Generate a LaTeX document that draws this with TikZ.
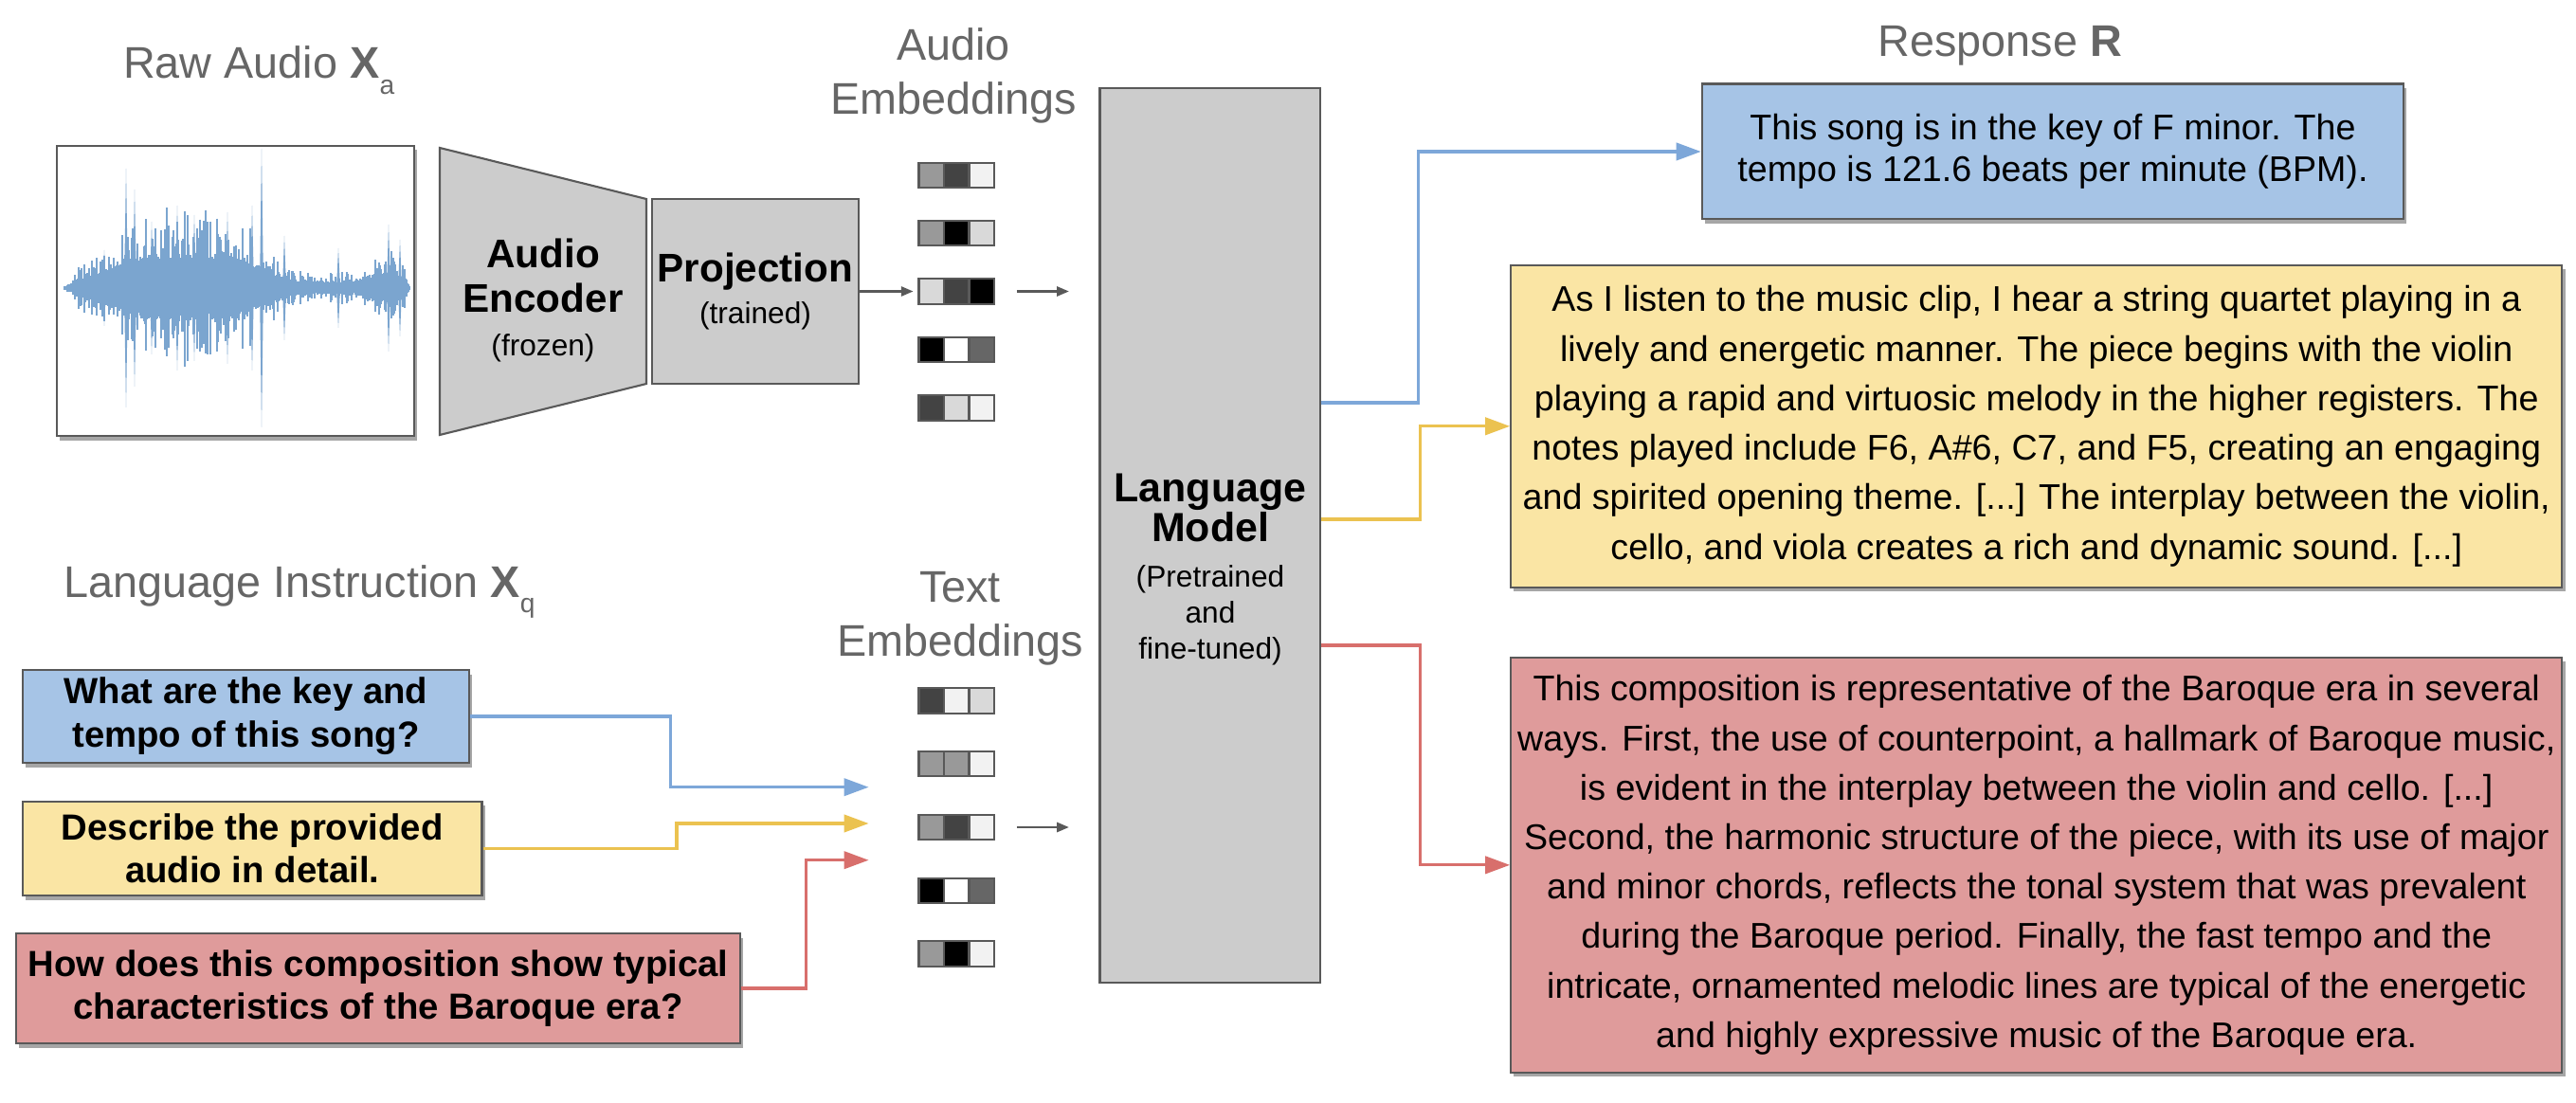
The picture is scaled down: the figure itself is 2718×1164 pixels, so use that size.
\documentclass[tikz,border=0pt]{standalone}
\usepackage{fontspec}
\setmainfont{Liberation Sans}
\usetikzlibrary{arrows.meta, shadows, positioning}

\definecolor{boxgray}{HTML}{CCCCCC}
\definecolor{edgegray}{HTML}{595959}
\definecolor{titlegray}{HTML}{666666}
\definecolor{fillblue}{HTML}{A6C4E6}
\definecolor{fillyellow}{HTML}{FAE5A4}
\definecolor{fillred}{HTML}{DF9B9B}
\definecolor{lineblue}{HTML}{7DA7D9}
\definecolor{lineyellow}{HTML}{EBC250}
\definecolor{linered}{HTML}{D86F6C}
\definecolor{wavecolor}{HTML}{7BA5CF}
\definecolor{g1}{HTML}{F2F2F2}
\definecolor{g2}{HTML}{D9D9D9}
\definecolor{g3}{HTML}{999999}
\definecolor{g4}{HTML}{666666}
\definecolor{g5}{HTML}{434343}

\newcommand{\lowsub}[1]{\raisebox{-4.8pt}{\fontsize{8}{8}\selectfont #1}}

\tikzset{
    blockfill/.style={draw=edgegray, line width=0.6pt, fill=boxgray},
    box/.style={rectangle, draw=edgegray, line width=0.6pt, inner sep=0pt, align=center},
    shadowbox/.style={box, drop shadow={shadow xshift=0.9pt, shadow yshift=-1.3pt, opacity=0.35, fill=black}},
    grayblock/.style={box, fill=boxgray},
    question/.style={shadowbox, font=\fontsize{10.9}{13}\selectfont\bfseries},
    answer/.style={shadowbox, font=\fontsize{10.7}{14.85}\selectfont},
    titletext/.style={inner sep=0pt, text=titlegray, align=center, font=\fontsize{13.3}{16.1}\selectfont},
    cell/.style={draw=edgegray, line width=0.6pt, minimum size=0.265cm, inner sep=0pt},
    flow/.style={line width=0.9pt, -{Triangle[length=7.4pt, width=5.2pt]}},
    smallarrow/.style={draw=edgegray, line width=0.6pt, -{Triangle[length=3.6pt, width=2.9pt]}},
    wave/.style={draw=wavecolor, line width=0.45pt}
}

\begin{document}
\begin{tikzpicture}[x=0.01cm, y=-0.01cm]
    \useasboundingbox (0,0) rectangle (2718,1164);

    % titles
    \node[titletext, anchor=base west] (rawtitle) at (129.5,83) {Raw Audio \textbf{X}\lowsub{a}};
    \node[titletext, anchor=base west] (instrtitle) at (67,630) {Language Instruction \textbf{X}\lowsub{q}};
    \node[titletext, anchor=base west] (resptitle) at (1981,60) {Response \textbf{R}};
    \node[titletext] (audembtitle) at (1006,80) {Audio\\Embeddings};
    \node[titletext] (txtembtitle) at (1013,653) {Text\\Embeddings};

    % raw audio
    \node[shadowbox, fill=white, minimum width=3.77cm, minimum height=3.06cm] (wavebox) at (248.5,307) {};
    \pgfmathsetseed{7}
    \foreach \i in {0,...,364}{
        \pgfmathsetmacro\wx{68+\i}
        \pgfmathsetmacro\da{(\wx-195)/90}
        \pgfmathsetmacro\db{(\wx-410)/22}
        \pgfmathsetmacro\env{(12+50*exp(-(\da)^4)+18*exp(-(\db)*(\db)))*min(1,(\wx-66)/14)*min(1,(434-\wx)/8)}
        \pgfmathsetmacro\amp{\env*(0.5+0.9*rnd^3)}
        \pgfmathsetmacro\skew{0.8+0.25*rnd}
        \draw[wave] (\wx,304-\amp) -- (\wx,304+\amp*\skew);
    }
    \foreach \sx/\sa in {110/40, 133/126, 142/104, 160/70, 187/87, 205/77, 240/80, 266/87, 276/147, 300/55, 357/42, 410/67, 422/51}{
        \fill[wavecolor] (\sx-2,304) -- (\sx,304-\sa) -- (\sx+2,304) -- (\sx,304+\sa) -- cycle;
    }

    % encoder and projection
    \draw[blockfill] (464,156) -- (682,210) -- (682,405) -- (464,459) -- cycle;
    \node[inner sep=0pt, align=center, font=\fontsize{12}{13.3}\selectfont\bfseries] (enc) at (573,317)
        {Audio\\Encoder\\{\fontsize{9}{9}\selectfont\mdseries (frozen)}};
    \node[grayblock, minimum width=2.18cm, minimum height=1.95cm, font=\fontsize{12}{12.5}\selectfont\bfseries] (proj) at (797,307.5)
        {Projection\\{\fontsize{9}{9}\selectfont\mdseries (trained)}};

    % embeddings
    \foreach \r/\shades/\ry in {1/{g3,g5,g1}/185, 2/{g3,black,g2}/246, 3/{g2,g5,black}/307.5, 4/{black,white,g4}/369, 5/{g5,g2,g1}/430.5}{
        \foreach \s [count=\c] in \shades
            \node[cell, fill=\s] (aud-\r-\c) at ({956.25+26.5*\c},\ry) {};
    }
    \foreach \r/\shades/\ry in {1/{g5,g1,g2}/739.5, 2/{g3,g3,g1}/806, 3/{g3,g5,g1}/873, 4/{black,white,g4}/940, 5/{g3,black,g1}/1006.5}{
        \foreach \s [count=\c] in \shades
            \node[cell, fill=\s] (txt-\r-\c) at ({956.25+26.5*\c},\ry) {};
    }

    % language model
    \node[grayblock, minimum width=2.324cm, minimum height=9.44cm] (lm) at (1276.8,565) {};
    \node[inner sep=0pt, align=center, font=\fontsize{12.2}{11.9}\selectfont\bfseries] (lmtitle) at (1277,535.6) {Language\\Model};
    \node[inner sep=0pt, align=center, font=\fontsize{9}{10.8}\selectfont] (lmnote) at (1277,648.9) {(Pretrained\\and\\fine-tuned)};

    \draw[smallarrow, shorten >=1.4pt] (proj.east) -- (aud-3-1.west);
    \draw[smallarrow, shorten <=6.5pt, shorten >=9pt] (aud-3-3.east) -- (aud-3-3.east -| lm.west);
    \draw[smallarrow, shorten <=6.5pt, shorten >=9pt] (txt-3-3.east) -- (txt-3-3.east -| lm.west);

    % instructions
    \node[question, fill=fillblue, minimum width=4.71cm, minimum height=0.98cm] (qkey) at (259.5,756)
        {What are the key and\\tempo of this song?};
    \node[question, fill=fillyellow, minimum width=4.844cm, minimum height=0.993cm] (qdesc) at (266.2,895.4)
        {Describe the provided\\audio in detail.};
    \node[question, fill=fillred, minimum width=7.64cm, minimum height=1.16cm] (qbaroque) at (399,1043)
        {How does this composition show typical\\characteristics of the Baroque era?};

    \coordinate (inkey) at (916.6,830.7);
    \coordinate (indesc) at (916.6,869);
    \coordinate (inbaroque) at (916.6,907.7);
    \draw[flow, draw=lineblue] (qkey.east) -- ++(211.6,0) |- (inkey);
    \draw[flow, draw=lineyellow] (qdesc.east) -- ++(204.4,0) |- (indesc);
    \draw[flow, draw=linered] (qbaroque.east) -- ++(68,0) |- (inbaroque);

    % responses
    \node[answer, fill=fillblue, minimum width=7.40cm, minimum height=1.428cm, font=\fontsize{10.7}{12.5}\selectfont] (rkey) at (2166,160)
        {This song is in the key of F minor. The\\tempo is 121.6 beats per minute (BPM).};
    \node[answer, fill=fillyellow, minimum width=11.085cm, minimum height=3.396cm] (rdesc) at (2148.75,449.8)
        {As I listen to the music clip, I hear a string quartet playing in a\\
        lively and energetic manner. The piece begins with the violin\\
        playing a rapid and virtuosic melody in the higher registers. The\\
        notes played include F6, A\#6, C7, and F5, creating an engaging\\
        and spirited opening theme. [...] The interplay between the violin,\\
        cello, and viola creates a rich and dynamic sound. [...]};
    \node[answer, fill=fillred, minimum width=11.085cm, minimum height=4.377cm] (rbaroque) at (2148.75,912.85)
        {This composition is representative of the Baroque era in several\\
        ways. First, the use of counterpoint, a hallmark of Baroque music,\\
        is evident in the interplay between the violin and cello. [...]\\
        Second, the harmonic structure of the piece, with its use of major\\
        and minor chords, reflects the tonal system that was prevalent\\
        during the Baroque period. Finally, the fast tempo and the\\
        intricate, ornamented melodic lines are typical of the energetic\\
        and highly expressive music of the Baroque era.};

    \draw[flow, draw=lineblue] (lm.east |- 0,425) -- ++(102,0) |- (rkey.west);
    \draw[flow, draw=lineyellow] (lm.east |- 0,548) -- ++(104,0) |- (rdesc.west);
    \draw[flow, draw=linered] (lm.east |- 0,681) -- ++(104,0) |- (rbaroque.west);
\end{tikzpicture}
\end{document}
